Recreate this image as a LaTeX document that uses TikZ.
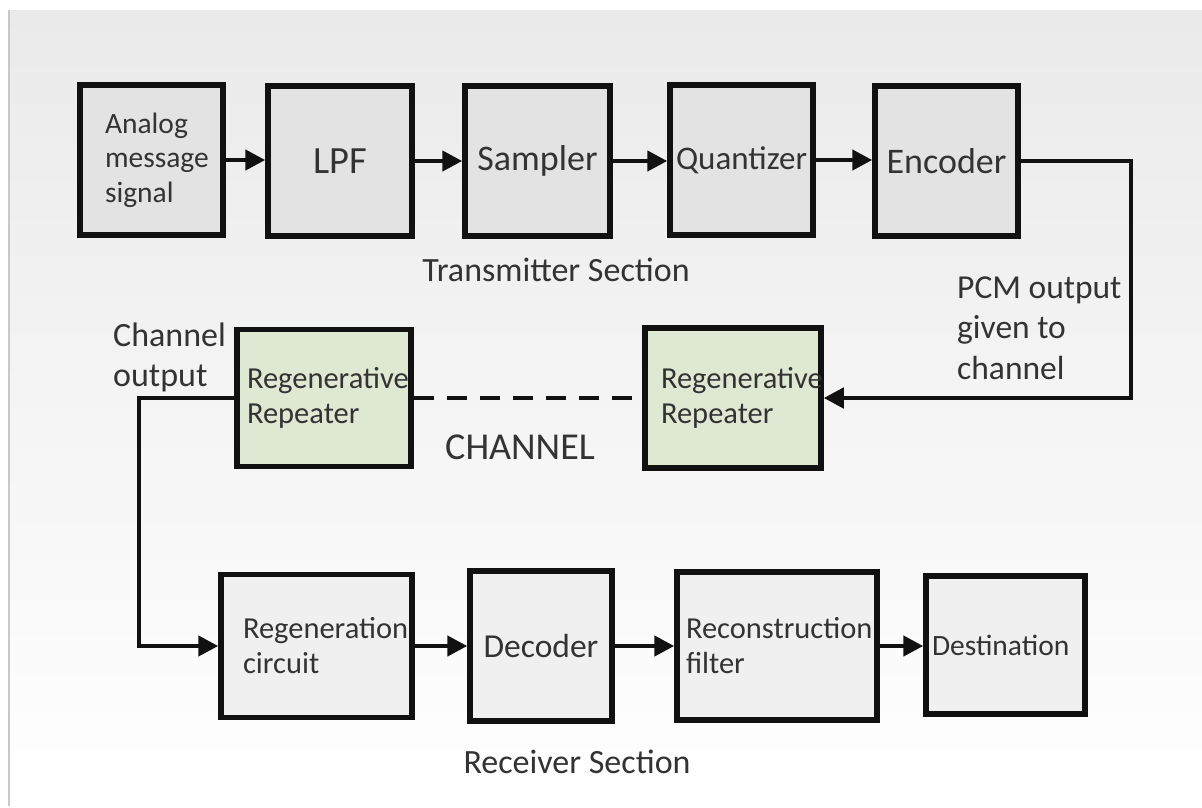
\documentclass[tikz,border=0pt]{standalone}
\usepackage{fontspec}
\setmainfont{Carlito}
\usetikzlibrary{arrows.meta}
\definecolor{ink}{HTML}{333333}
\definecolor{edge}{HTML}{111111}
\definecolor{txfill}{HTML}{E3E3E3}
\definecolor{rxfill}{HTML}{F0F0F0}
\definecolor{rptfill}{HTML}{DEE8D2}
\definecolor{bgtop}{HTML}{EAEAEA}
\definecolor{frame}{HTML}{C8C8C8}
\tikzset{
  blk/.style={draw=edge, line width=5.5pt, text=ink, inner ysep=0pt},
  txblk/.style={blk, fill=txfill},
  rxblk/.style={blk, fill=rxfill},
  rptblk/.style={blk, fill=rptfill},
  big/.style={font=\fontsize{36}{42}\selectfont, align=center, inner xsep=2pt},
  small/.style={font=\fontsize{30.5}{35}\selectfont, align=left},
  lbl/.style={text=ink, inner sep=0pt},
  link/.style={draw=edge, line width=4.5pt, line join=miter},
  flow/.style={link, -{Triangle[length=20pt,width=20pt]}},
}
\begin{document}
\begin{tikzpicture}[x=1pt, y=-1pt]
  % page background: white margin, soft grey-to-white panel, left rule
  \fill[white] (0,0) rectangle (1202,806);
  \shade[top color=bgtop, bottom color=white] (10,10) rectangle (1202,806);
  \draw[frame, line width=2pt] (9,10) -- (9,806);
  \useasboundingbox (0,0) rectangle (1202,806);

  % transmitter section
  \node[txblk, small, font=\fontsize{29.5}{34.5}\selectfont, minimum width=143pt, minimum height=150pt,
        inner xsep=25pt, text width=93pt] (ana) at (151.5,160) {Analog\\message\\signal};
  \node[txblk, big, font=\fontsize{38.5}{44}\selectfont, minimum width=144pt, minimum height=150pt] (lpf) at (340,161) {LPF};
  \node[txblk, big, minimum width=145pt, minimum height=150pt] (smp) at (537.5,161) {Sampler};
  \node[txblk, big, font=\fontsize{33}{40}\selectfont, minimum width=143pt, minimum height=150pt] (qnt) at (741.5,160) {Quantizer};
  \node[txblk, big, minimum width=143pt, minimum height=150pt] (enc) at (946.5,161) {Encoder};

  \draw[flow] (ana.east) -- (ana.east -| lpf.west);
  \draw[flow] (lpf.east) -- (smp.west);
  \draw[flow] (smp.east) -- (smp.east -| qnt.west);
  \draw[flow] (qnt.east) -- (qnt.east -| enc.west);

  \node[lbl, font=\fontsize{34}{40}\selectfont] (txlbl) at (556,270) {Transmitter Section};

  % channel with its two repeaters
  \node[rptblk, small, minimum width=176pt, minimum height=140pt,
        inner xsep=16pt, text width=144pt] (rr) at (733,398) {Regenerative\\Repeater};
  \node[rptblk, small, minimum width=174pt, minimum height=137pt,
        inner xsep=10pt, text width=154pt] (lr) at (324,398) {Regenerative\\Repeater};

  \coordinate (pcmx) at (1131,0);
  \draw[flow] (enc.east) -| (pcmx |- rr.east) -- (rr.east);
  \draw[link, dash pattern=on 20pt off 13pt] (lr.east) -- (rr.west);

  \node[lbl, font=\fontsize{33.5}{40.5}\selectfont, align=left, anchor=west] (pcm) at (957,328)
       {PCM output\\given to\\channel};
  \node[lbl, font=\fontsize{38}{44}\selectfont] (chan) at (520,447) {CHANNEL};
  \node[lbl, font=\fontsize{34}{40}\selectfont, align=left, anchor=west] (chout) at (113,357)
       {Channel\\output};

  % receiver section
  \node[rxblk, small, minimum width=191pt, minimum height=143pt,
        inner xsep=22pt, text width=147pt] (rc) at (316.5,646) {Regeneration\\circuit};
  \node[rxblk, big, font=\fontsize{33.5}{40}\selectfont, minimum width=142pt, minimum height=150pt] (dec) at (541,646) {Decoder};
  \node[rxblk, small, minimum width=200pt, minimum height=148pt,
        inner xsep=9pt, text width=182pt] (rf) at (777,646) {Reconstruction\\filter};
  \node[rxblk, small, font=\fontsize{29.5}{35}\selectfont, minimum width=159pt, minimum height=138pt,
        inner xsep=6pt, text width=147pt] (dst) at (1005.5,645) {Destination};

  \coordinate (chx) at (139,0);
  \draw[flow] (lr.west) -| (chx |- rc.west) -- (rc.west);
  \draw[flow] (rc.east) -- (dec.west);
  \draw[flow] (dec.east) -- (rf.west);
  \draw[flow] (rf.east) -- (rf.east -| dst.west);

  \node[lbl, font=\fontsize{34}{40}\selectfont] (rxlbl) at (577,762) {Receiver Section};
\end{tikzpicture}
\end{document}
